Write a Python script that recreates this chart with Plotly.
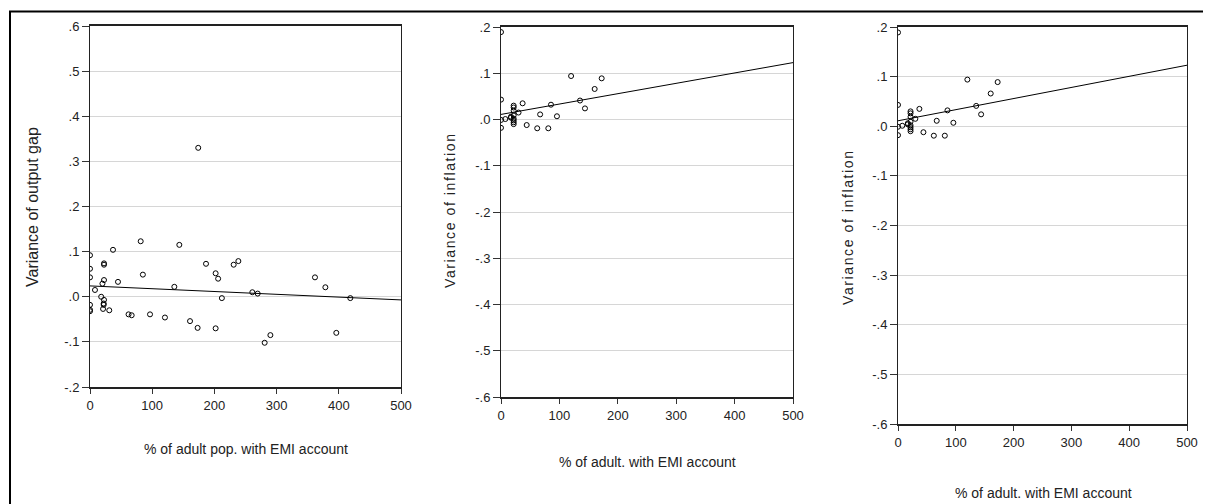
import plotly.graph_objects as go

# ---- data ----
emi_gap = [0, 0, 0, 0, 0, 0, 8, 18, 20, 22.5, 22.5, 22.5, 22.5, 22, 22, 21, 31, 37, 45,
           62, 67, 81.5, 85, 96.5, 120.5, 135.6, 143.6, 160.8, 173, 174, 186.5, 202, 206,
           202, 212, 231, 238.5, 261, 269.6, 280.8, 290, 361.7, 378.4, 418.5, 396]
gap_var = [0.092, 0.062, 0.043, -0.018, -0.029, -0.032, 0.015, 0.0, 0.029, 0.074, 0.071,
           0.037, -0.007, -0.015, -0.018, -0.027, -0.030, 0.104, 0.033, -0.039, -0.041,
           0.123, 0.049, -0.039, -0.046, 0.022, 0.115, -0.054, -0.069, 0.330, 0.073, 0.052,
           0.040, -0.070, -0.003, 0.071, 0.079, 0.010, 0.007, -0.102, -0.085, 0.043, 0.021,
           -0.003, -0.080]

emi_inf = [0, 0, 0, 0, 7.4, 17, 17, 21.7, 21.7, 21.7, 21.7, 21.7, 21.7, 21.7, 21.7,
           30, 37, 44, 62, 67, 81, 85.6, 95.8, 120, 135.3, 143.8, 160.4, 172.4]
inf_var = [0.189, 0.043, -0.001, -0.018, 0.001, 0.004, 0.006, 0.030, 0.026, 0.019, 0.009,
           0.002, -0.002, -0.006, -0.010, 0.015, 0.035, -0.012, -0.019, 0.011, -0.019,
           0.032, 0.007, 0.094, 0.041, 0.024, 0.066, 0.089]

fit_x = [0, 500]
fit_gap = [0.024, -0.007]
fit_inf = [0.011, 0.123]

x_ticks = [0, 100, 200, 300, 400, 500]
gap_ticks = [0.6, 0.5, 0.4, 0.3, 0.2, 0.1, 0.0, -0.1, -0.2]
gap_ticktext = [".6", ".5", ".4", ".3", ".2", ".1", ".0", "-.1", "-.2"]
inf_ticks = [0.2, 0.1, 0.0, -0.1, -0.2, -0.3, -0.4, -0.5, -0.6]
inf_ticktext = [".2", ".1", ".0", "-.1", "-.2", "-.3", "-.4", "-.5", "-.6"]

titles_x = ["% of adult pop. with EMI account", "% of adult. with EMI account",
            "% of adult. with EMI account"]
titles_y = ["Variance of output gap", "Variance of inflation", "Variance of inflation"]

# ---- layout geometry (page pixels) ----
# the page body has an 8px default margin, so the figure is offset by it
OFF = 8
W, H = 1211 - OFF, 504 - OFF
FONT = "Liberation Sans, Arial, sans-serif"


def px(x):
    return (x - OFF) / W


def py(y):
    return 1 - (y - OFF) / H


panels = [  # (x0, x1, ytop, ybottom) in page pixels
    (90, 401, 26, 387),
    (501, 793, 27, 397),
    (898, 1187, 27, 424),
]

fig = go.Figure()

series = [
    (emi_gap, gap_var, fit_gap),
    (emi_inf, inf_var, fit_inf),
    (emi_inf, inf_var, fit_inf),
]

for i, (xs, ys, fy) in enumerate(series):
    sfx = "" if i == 0 else str(i + 1)
    fig.add_trace(go.Scatter(
        x=xs, y=ys, mode="markers", xaxis="x" + sfx, yaxis="y" + sfx,
        marker=dict(symbol="circle-open", size=5, color="black", line=dict(width=1)),
        showlegend=False, hoverinfo="x+y"))
    fig.add_trace(go.Scatter(
        x=fit_x, y=fy, mode="lines", xaxis="x" + sfx, yaxis="y" + sfx,
        line=dict(color="black", width=1), showlegend=False, hoverinfo="skip"))

layout = dict(
    width=W, height=H, autosize=False,
    margin=dict(l=0, r=0, t=0, b=0, pad=0, autoexpand=False),
    paper_bgcolor="white", plot_bgcolor="white",
    font=dict(family=FONT, size=13, color="#222222"),
    showlegend=False,
)

for i, (x0, x1, yt, yb) in enumerate(panels):
    sfx = "" if i == 0 else str(i + 1)
    tv = gap_ticks if i == 0 else inf_ticks
    tt = gap_ticktext if i == 0 else inf_ticktext
    rng = [-0.2, 0.6] if i == 0 else [-0.6, 0.2]
    layout["xaxis" + sfx] = dict(
        domain=[px(x0), px(x1)], range=[0, 500], anchor="y" + sfx,
        tickvals=x_ticks, ticktext=[str(v) for v in x_ticks],
        ticks="outside", ticklen=5, tickcolor="#333333", tickwidth=1,
        showline=True, linecolor="#222222", linewidth=2, mirror=True,
        showgrid=False, zeroline=False, automargin=False,
        tickfont=dict(family=FONT, size=13, color="#222222"),
    )
    layout["yaxis" + sfx] = dict(
        domain=[py(yb), py(yt)], range=rng, anchor="x" + sfx,
        tickvals=tv, ticktext=tt,
        ticks="outside", ticklen=7, tickcolor="#333333", tickwidth=1,
        showline=True, linecolor="#222222", linewidth=1, mirror=True,
        showgrid=True, gridcolor="#d6d6d6", gridwidth=1, zeroline=False,
        automargin=False,
        tickfont=dict(family=FONT, size=13, color="#222222"),
    )

fig.update_layout(**layout)

annotations = []
# x titles (center x, y)
xt_pos = [(245.5, 449), (647, 462), (1043, 493)]
for t, (cx, cy) in zip(titles_x, xt_pos):
    annotations.append(dict(text=t, x=px(cx), y=py(cy), xref="paper", yref="paper",
                            showarrow=False, xanchor="center", yanchor="middle",
                            font=dict(family=FONT, size=14, color="#222222")))
# y titles (center x, center y, letter spacing, size)
yt_pos = [(33, 207, 0, 16), (450, 210, 1.6, 14), (848, 227, 1.6, 14)]
for t, (cx, cy, ls, fs) in zip(titles_y, yt_pos):
    txt = t if ls == 0 else '<span style="letter-spacing:%spx">%s</span>' % (ls, t)
    annotations.append(dict(text=txt, x=px(cx), y=py(cy), xref="paper", yref="paper",
                            showarrow=False, xanchor="center", yanchor="middle",
                            textangle=-90,
                            font=dict(family=FONT, size=fs, color="#222222")))
fig.update_layout(annotations=annotations)

# outer frame (top and left edges)
fig.add_shape(type="line", xref="paper", yref="paper", x0=px(9), x1=1, y0=py(11.5), y1=py(11.5),
              line=dict(color="black", width=2))
fig.add_shape(type="line", xref="paper", yref="paper", x0=px(10), x1=px(10), y0=py(11), y1=0,
              line=dict(color="black", width=2))

fig.write_html("out.html")
